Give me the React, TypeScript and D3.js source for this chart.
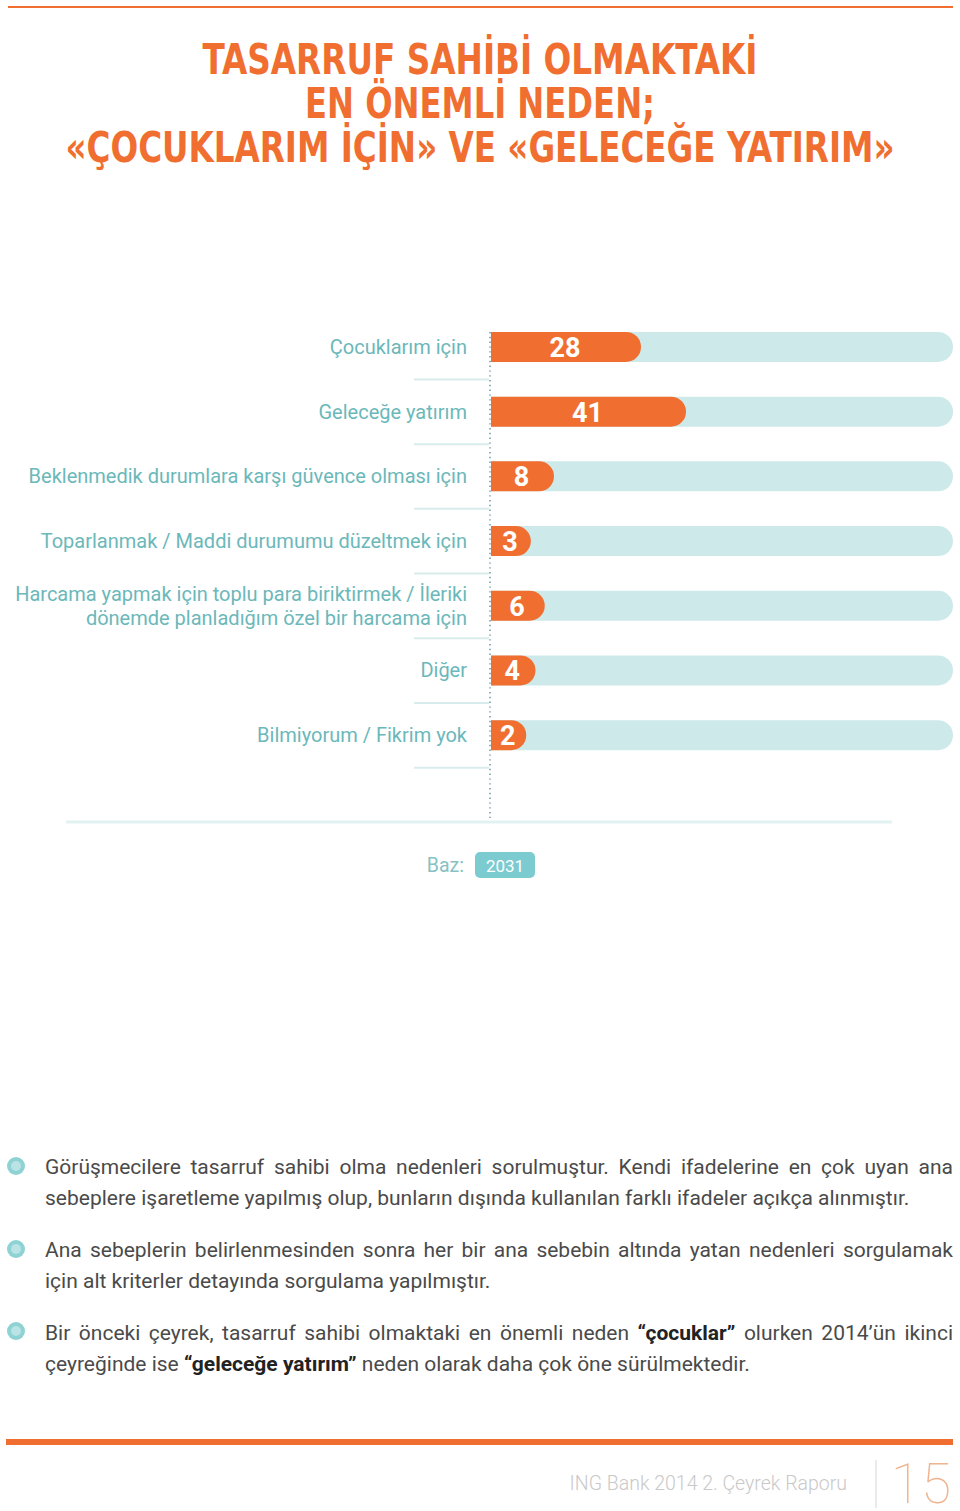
import React, { useMemo } from "react";
import * as d3 from "d3";

const titleLines = [
  "TASARRUF SAHİBİ OLMAKTAKİ",
  "EN ÖNEMLİ NEDEN;",
  "«ÇOCUKLARIM İÇİN» VE «GELECEĞE YATIRIM»",
];

const categories = [
  ["Çocuklarım için"],
  ["Geleceğe yatırım"],
  ["Beklenmedik durumlara karşı güvence olması için"],
  ["Toparlanmak / Maddi durumumu düzeltmek için"],
  ["Harcama yapmak için toplu para biriktirmek / İleriki", "dönemde planladığım özel bir harcama için"],
  ["Diğer"],
  ["Bilmiyorum / Fikrim yok"],
];

const values = [28, 41, 8, 3, 6, 4, 2];

const baseLabel = "Baz:";
const baseValue = "2031";

const paragraphs = [
  [
    "Görüşmecilere tasarruf sahibi olma nedenleri sorulmuştur. Kendi ifadelerine en çok uyan ana",
    "sebeplere işaretleme yapılmış olup, bunların dışında kullanılan farklı ifadeler açıkça alınmıştır.",
  ],
  [
    "Ana sebeplerin belirlenmesinden sonra her bir ana sebebin altında yatan nedenleri sorgulamak",
    "için alt kriterler detayında sorgulama yapılmıştır.",
  ],
  [
    "Bir önceki çeyrek, tasarruf sahibi olmaktaki en önemli neden *“çocuklar”* olurken 2014’ün ikinci",
    "çeyreğinde ise *“geleceğe yatırım”* neden olarak daha çok öne sürülmektedir.",
  ],
];

const footerText = "ING Bank 2014 2. Çeyrek Raporu";
const pageNumber = "15";

const ORANGE = "#f06f30";
const TRACK = "#cde9ea";
const LABEL = "#6bb8ba";
const BODY_FONT = "Roboto, 'Open Sans', sans-serif";

function barPath(x0: number, x1: number, y: number, h: number) {
  const r = h / 2;
  const w = Math.max(x1 - x0, r);
  const xe = x0 + w;
  return `M${x0},${y}H${xe - r}A${r},${r} 0 0 1 ${xe - r},${y + h}H${x0}Z`;
}

export default function App() {
  const W = 960;
  const H = 1511;

  const x0 = 491;
  const trackEnd = 953;
  // piecewise scale (bars are not strictly proportional)
  const xw = d3.scaleLinear().domain([0, 8, 28, 41]).range([26, 63, 150, 195]);
  const y = d3
    .scaleBand<number>()
    .domain(values.map((_, i) => i))
    .range([314.6, 314.6 + 64.7 * values.length])
    .paddingInner(0)
    .paddingOuter(0);
  const barH = 30;

  const fontSize = 21;
  const measure = useMemo(() => {
    const c = document.createElement("canvas");
    const ctx = c.getContext("2d")!;
    return (t: string, bold: boolean) => {
      ctx.font = `${bold ? 700 : 400} ${fontSize}px Roboto`;
      return ctx.measureText(t).width;
    };
  }, []);

  const paraLayout = useMemo(() => {
    const left = 45;
    const right = 953;
    const startY = [1174, 1257, 1340];
    const lh = 31;
    const out: { x: number; y: number; text: string; bold: boolean }[] = [];
    paragraphs.forEach((lines, pi) => {
      lines.forEach((line, li) => {
        let bold = false;
        const words = line.split(" ").map((w) => {
          let t = w;
          let b = bold;
          if (t.startsWith("*")) {
            b = true;
            bold = true;
            t = t.slice(1);
          }
          if (t.endsWith("*")) {
            t = t.slice(0, -1);
            bold = false;
          }
          return { t, b };
        });
        const widths = words.map((w) => measure(w.t, w.b));
        const total = widths.reduce((a, b) => a + b, 0);
        const isLast = li === lines.length - 1;
        const space = measure(" ", false);
        const gap = isLast ? space : (right - left - total) / (words.length - 1);
        let x = left;
        words.forEach((w, i) => {
          out.push({ x, y: startY[pi] + li * lh, text: w.t, bold: w.b });
          x += widths[i] + gap;
        });
      });
    });
    return out;
  }, [measure]);

  return (
    <svg
      width={W}
      height={H}
      style={{ position: "absolute", left: 0, top: 0, display: "block", background: "#fff" }}
    >
      {/* top rule */}
      <line x1={8} x2={953} y1={7} y2={7} stroke={ORANGE} strokeWidth={2} />

      {/* title */}
      {titleLines.map((t, i) => (
        <text
          key={i}
          x={480}
          y={74 + i * 44}
          textAnchor="middle"
          fill={ORANGE}
          fontFamily="'Liberation Sans Narrow', 'DejaVu Sans Condensed', 'Roboto Condensed', sans-serif"
          fontWeight={700}
          fontSize={42}
          textLength={[555, 350, 829][i]}
          lengthAdjust="spacingAndGlyphs"
        >
          {t}
        </text>
      ))}

      {/* dotted axis */}
      <line x1={490} x2={490} y1={332} y2={818} stroke="#86aab6" strokeWidth={1.8} strokeDasharray="1.4 3.4" />

      {/* rows */}
      {values.map((v, i) => {
        const cy = (y(i) as number) + y.bandwidth() / 2;
        const top = cy - barH / 2;
        const x1 = x0 + xw(v);
        const lab = categories[i];
        return (
          <g key={i}>
            <path d={barPath(x0, trackEnd, top, barH)} fill={TRACK} />
            <path d={barPath(x0, x1, top, barH)} fill={ORANGE} />
            <text
              x={(x0 + x1) / 2 - 1}
              y={cy + 10}
              textAnchor="middle"
              fill="#fff"
              fontFamily={BODY_FONT}
              fontWeight={700}
              fontSize={27}
            >
              {v}
            </text>
            {lab.map((l, k) => (
              <text
                key={k}
                x={467}
                y={cy + 7 + (k - (lab.length - 1) / 2) * 24}
                textAnchor="end"
                fill={LABEL}
                fontFamily={BODY_FONT}
                fontSize={20}
              >
                {l}
              </text>
            ))}
            <line x1={414} x2={489} y1={cy + 32.5} y2={cy + 32.5} stroke="#d9ecec" strokeWidth={2} />
          </g>
        );
      })}

      {/* base line */}
      <line x1={66} x2={892} y1={822} y2={822} stroke="#e2f1f2" strokeWidth={3} />

      {/* Baz */}
      <text x={464} y={872} textAnchor="end" fill="#86c2c3" fontFamily={BODY_FONT} fontSize={19.5}>
        {baseLabel}
      </text>
      <rect x={475} y={852} width={60} height={26} rx={5} fill="#7ccbd0" />
      <text x={505} y={871.5} textAnchor="middle" fill="#fff" fontFamily={BODY_FONT} fontSize={17}>
        {baseValue}
      </text>

      {/* bullets */}
      {[1166, 1249, 1331].map((cy, i) => (
        <g key={i}>
          <circle cx={16} cy={cy} r={9} fill="#8ed2d4" />
          <circle cx={16} cy={cy} r={5} fill="#b9e3e4" />
        </g>
      ))}

      {/* paragraphs */}
      {paraLayout.map((w, i) => (
        <text
          key={i}
          x={w.x}
          y={w.y}
          fill={w.bold ? "#222" : "#4a4a4a"}
          fontFamily={BODY_FONT}
          fontWeight={w.bold ? 700 : 400}
          fontSize={fontSize}
        >
          {w.text}
        </text>
      ))}

      {/* footer */}
      <rect x={6} y={1439} width={947} height={6} fill={ORANGE} />
      <text x={847} y={1490} textAnchor="end" fill="#c9c9c9" fontFamily={BODY_FONT} fontWeight={300} fontSize={19.5}>
        {footerText}
      </text>
      <line x1={876} x2={876} y1={1460} y2={1508} stroke="#e3e3e3" strokeWidth={1.5} />
      <text x={951} y={1503} textAnchor="end" fill="#f0b48e" fontFamily={BODY_FONT} fontWeight={100} fontSize={55}>
        {pageNumber}
      </text>
    </svg>
  );
}
